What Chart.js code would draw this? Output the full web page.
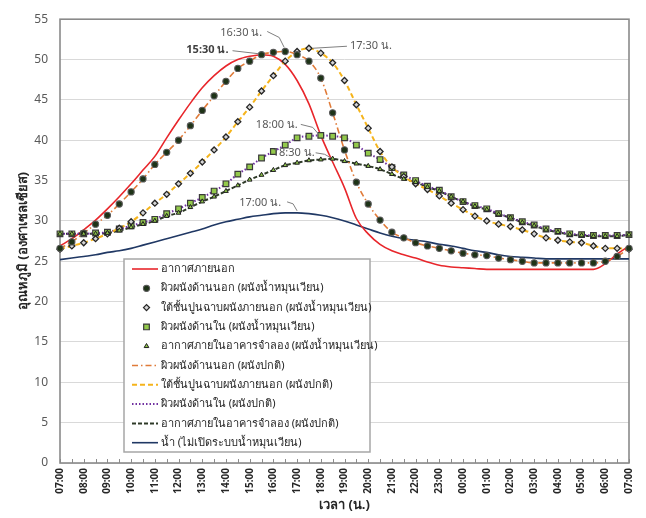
<!DOCTYPE html>
<html>
<head>
<meta charset="utf-8">
<script src="https://cdn.jsdelivr.net/npm/chart.js@4.4.1/dist/chart.umd.min.js"></script>
<style>
  html, body { margin: 0; padding: 0; background: #ffffff; }
  #wrap { width: 646px; height: 518px; position: relative; }
</style>
</head>
<body>
<div id="wrap"><canvas id="chart" width="646" height="518"></canvas></div>
<script>
// Half-hourly readings over one day, 07:00 to 07:00
const timeLabels = [
  '07:00','07:30','08:00','08:30','09:00','09:30','10:00','10:30','11:00','11:30',
  '12:00','12:30','13:00','13:30','14:00','14:30','15:00','15:30','16:00','16:30',
  '17:00','17:30','18:00','18:30','19:00','19:30','20:00','20:30','21:00','21:30',
  '22:00','22:30','23:00','23:30','00:00','00:30','01:00','01:30','02:00','02:30',
  '03:00','03:30','04:00','04:30','05:00','05:30','06:00','06:30','07:00'
];

// Outdoor air (°C)
const outdoorAir = [
  26.9, 27.8, 28.9, 30.1, 31.5, 33.0, 34.6, 36.3, 38.0, 40.3,
  42.5, 44.6, 46.5, 48.0, 49.2, 50.0, 50.4, 50.6, 50.4, 49.4,
  47.4, 44.5, 40.6, 37.3, 34.1, 30.3, 28.4, 27.1, 26.3, 25.8,
  25.4, 24.9, 24.5, 24.3, 24.2, 24.1, 24.0, 24.0, 24.0, 24.0,
  24.0, 24.0, 24.0, 24.0, 24.0, 24.0, 24.7, 25.9, 26.9
];

// Outer wall surface
const outerSurface = [
  26.6, 27.4, 28.5, 29.6, 30.7, 32.1, 33.6, 35.2, 37.0, 38.5,
  40.0, 41.8, 43.7, 45.5, 47.3, 48.9, 49.8, 50.6, 50.9, 51.0,
  50.6, 49.8, 47.7, 43.4, 38.8, 34.8, 32.1, 30.1, 28.6, 27.9,
  27.3, 26.9, 26.6, 26.3, 26.0, 25.8, 25.7, 25.4, 25.2, 25.0,
  24.8, 24.8, 24.8, 24.8, 24.8, 24.8, 25.0, 25.6, 26.6
];

// Under the plaster layer of the outer wall
const underPlaster = [
  26.5, 26.9, 27.3, 27.8, 28.4, 29.1, 29.9, 31.0, 32.2, 33.3,
  34.6, 35.9, 37.3, 38.8, 40.4, 42.3, 44.1, 46.1, 48.0, 49.8,
  51.0, 51.4, 50.8, 49.6, 47.4, 44.4, 41.5, 38.6, 36.7, 35.5,
  34.6, 33.9, 33.1, 32.2, 31.4, 30.6, 30.0, 29.6, 29.3, 28.9,
  28.4, 27.9, 27.6, 27.4, 27.3, 26.9, 26.6, 26.6, 26.5
];

// Inner wall surface
const innerSurface = [
  28.4, 28.4, 28.4, 28.5, 28.6, 29.0, 29.4, 29.8, 30.2, 30.9,
  31.5, 32.2, 32.9, 33.7, 34.6, 35.8, 36.7, 37.8, 38.6, 39.4,
  40.3, 40.5, 40.6, 40.5, 40.3, 39.4, 38.4, 37.6, 36.6, 35.7,
  35.0, 34.3, 33.8, 33.0, 32.4, 31.9, 31.5, 30.9, 30.4, 29.9,
  29.5, 29.0, 28.7, 28.4, 28.3, 28.2, 28.2, 28.2, 28.3
];

// Air inside the test building
const indoorAir = [
  28.4, 28.4, 28.4, 28.4, 28.5, 28.8, 29.2, 29.6, 30.0, 30.6,
  31.0, 31.7, 32.4, 33.0, 33.7, 34.4, 35.1, 35.7, 36.3, 36.9,
  37.2, 37.5, 37.6, 37.7, 37.4, 37.1, 36.8, 36.4, 35.8, 35.2,
  34.8, 34.2, 33.7, 33.0, 32.4, 31.8, 31.4, 30.8, 30.4, 29.8,
  29.4, 28.9, 28.6, 28.3, 28.2, 28.1, 28.1, 28.1, 28.3
];

// Water, circulation switched off
const waterTemp = [
  25.2, 25.4, 25.6, 25.8, 26.1, 26.3, 26.6, 27.0, 27.4, 27.8,
  28.2, 28.6, 29.0, 29.5, 29.9, 30.2, 30.5, 30.7, 30.9, 31.0,
  31.0, 30.9, 30.7, 30.4, 30.0, 29.5, 29.0, 28.5, 28.1, 27.8,
  27.6, 27.4, 27.1, 26.9, 26.6, 26.3, 26.1, 25.8, 25.6, 25.5,
  25.4, 25.3, 25.3, 25.3, 25.3, 25.3, 25.3, 25.3, 25.3
];

const yTicks = [0, 5, 10, 15, 20, 25, 30, 35, 40, 45, 50, 55];

const seriesNames = [
  'อากาศภายนอก',
  'ผิวผนังด้านนอก (ผนังน้ำหมุนเวียน)',
  'ใต้ชั้นปูนฉาบผนังภายนอก (ผนังน้ำหมุนเวียน)',
  'ผิวผนังด้านใน (ผนังน้ำหมุนเวียน)',
  'อากาศภายในอาคารจำลอง (ผนังน้ำหมุนเวียน)',
  'ผิวผนังด้านนอก (ผนังปกติ)',
  'ใต้ชั้นปูนฉาบผนังภายนอก (ผนังปกติ)',
  'ผิวผนังด้านใน (ผนังปกติ)',
  'อากาศภายในอาคารจำลอง (ผนังปกติ)',
  'น้ำ (ไม่เปิดระบบน้ำหมุนเวียน)'
];

const FONT = "Tahoma, 'Noto Sans', 'DejaVu Sans', sans-serif";

function lineSet(label, data, color, width, dash, order) {
  return {
    label, data, borderColor: color, backgroundColor: color, borderWidth: width,
    borderDash: dash, pointRadius: 0, fill: false, order,
    cubicInterpolationMode: 'monotone'
  };
}
function markerSet(label, data, style, radius, fillColor, edgeColor, edgeWidth, order) {
  return {
    label, data, showLine: false, pointStyle: style, pointRadius: radius,
    pointBackgroundColor: fillColor, pointBorderColor: edgeColor, pointBorderWidth: edgeWidth,
    backgroundColor: fillColor, borderColor: edgeColor, order
  };
}

const datasets = [
  lineSet(seriesNames[0], outdoorAir, '#e8262b', 1.6, [], 6),
  markerSet(seriesNames[1], outerSurface, 'circle', 3.1, '#1e3317', '#5a5a5a', 1.1, 1),
  markerSet(seriesNames[2], underPlaster, 'rectRot', 3.0, '#d6d6d6', '#262626', 1.3, 2),
  markerSet(seriesNames[3], innerSurface, 'rect', 4.0, '#93c94b', '#3a3a3a', 1.2, 2),
  markerSet(seriesNames[4], indoorAir, 'triangle', 2.7, '#8fc74a', '#1f1f1f', 1.0, 0),
  lineSet(seriesNames[5], outerSurface, '#e07b39', 1.6, [6, 3, 1.5, 3], 5),
  lineSet(seriesNames[6], underPlaster, '#f5b41c', 2.0, [5, 3], 5),
  lineSet(seriesNames[7], innerSurface, '#7030a0', 2.0, [1.5, 2], 5),
  lineSet(seriesNames[8], indoorAir, '#2e3a28', 2.0, [4, 2], 5),
  lineSet(seriesNames[9], waterTemp, '#203864', 1.6, [], 6)
];

// Peak callouts: series, index, text, text anchor offset, leader path offsets
const callouts = [
  { data: outdoorAir, idx: 17, text: '15:30 น.', bold: true, align: 'right', tx: -33, ty: -5, path: [[-29, -4], [-3, -1]] },
  { data: outerSurface, idx: 19, text: '16:30 น.', align: 'right', tx: -23, ty: -19, path: [[-18, -20], [-6, -14], [-1, -4]] },
  { data: underPlaster, idx: 21, text: '17:30 น.', align: 'left', tx: 41, ty: -2, path: [[38, -2], [4, 0]] },
  { data: innerSurface, idx: 22, text: '18:00 น.', align: 'right', tx: -23, ty: -11, path: [[-20, -11], [-8, -8], [-2, -1]] },
  { data: indoorAir, idx: 23, text: '18:30 น.', align: 'right', tx: -18, ty: -6, path: [[-17, -6], [-8, -4.5], [-2, -1]] },
  { data: waterTemp, idx: 20, text: '17:00 น.', align: 'right', tx: -16, ty: -10, path: [[-10, -11], [-4, -9], [0, -2]] }
];

const framePlugin = {
  id: 'frame',
  beforeDatasetsDraw(chart) {
    const { ctx, chartArea: a, scales } = chart;
    ctx.save();
    // half-hour ticks pointing into the plot
    ctx.strokeStyle = '#8c8c8c';
    ctx.lineWidth = 1;
    for (let i = 0; i < timeLabels.length; i++) {
      const x = Math.round(scales.x.getPixelForValue(i)) + 0.5;
      ctx.beginPath();
      ctx.moveTo(x, a.bottom);
      ctx.lineTo(x, a.bottom - 4);
      ctx.stroke();
    }
    ctx.strokeStyle = '#8a8a8a';
    ctx.lineWidth = 1.6;
    ctx.strokeRect(a.left, a.top, a.right - a.left, a.bottom - a.top);
    ctx.restore();
  }
};

const calloutPlugin = {
  id: 'callouts',
  afterDatasetsDraw(chart) {
    const { ctx, scales } = chart;
    ctx.save();
    for (const c of callouts) {
      const px = scales.x.getPixelForValue(c.idx);
      const py = scales.y.getPixelForValue(c.data[c.idx]);
      ctx.strokeStyle = '#7f7f7f';
      ctx.lineWidth = 1;
      ctx.beginPath();
      c.path.forEach((p, k) => {
        if (k === 0) ctx.moveTo(px + p[0], py + p[1]);
        else ctx.lineTo(px + p[0], py + p[1]);
      });
      ctx.stroke();
      ctx.font = (c.bold ? 'bold ' : '') + '11px ' + FONT;
      ctx.fillStyle = c.bold ? '#404040' : '#595959';
      ctx.textAlign = c.align;
      ctx.textBaseline = 'middle';
      ctx.fillText(c.text, px + c.tx, py + c.ty);
    }
    ctx.restore();
  }
};

const legendPlugin = {
  id: 'boxLegend',
  afterDatasetsDraw(chart) {
    const { ctx, chartArea: a } = chart;
    const left = a.left + 64, top = a.bottom - 204, w = 246, h = 193, step = 19.3;
    ctx.save();
    ctx.fillStyle = '#ffffff';
    ctx.fillRect(left, top, w, h);
    ctx.strokeStyle = '#a6a6a6';
    ctx.lineWidth = 1.5;
    ctx.strokeRect(left, top, w, h);
    datasets.forEach((ds, i) => {
      const y = top + 10 + i * step;
      if (ds.showLine === false) {
        ctx.fillStyle = ds.pointBackgroundColor;
        ctx.strokeStyle = ds.pointBorderColor;
        ctx.lineWidth = ds.pointBorderWidth;
        Chart.helpers.drawPoint(ctx, {
          pointStyle: ds.pointStyle, radius: ds.pointRadius, rotation: 0,
          borderWidth: ds.pointBorderWidth
        }, left + 22.5, y);
      } else {
        ctx.strokeStyle = ds.borderColor;
        ctx.lineWidth = ds.borderWidth;
        ctx.setLineDash(ds.borderDash);
        ctx.beginPath();
        ctx.moveTo(left + 8, y);
        ctx.lineTo(left + 34, y);
        ctx.stroke();
        ctx.setLineDash([]);
      }
      ctx.font = '11px ' + FONT;
      ctx.fillStyle = '#262626';
      ctx.textAlign = 'left';
      ctx.textBaseline = 'middle';
      ctx.fillText(ds.label, left + 37, y);
    });
    ctx.restore();
  }
};

new Chart(document.getElementById('chart'), {
  type: 'line',
  data: { labels: timeLabels, datasets },
  options: {
    responsive: false,
    animation: false,
    devicePixelRatio: 1,
    layout: { autoPadding: false, padding: { top: 14, right: 6, left: 0, bottom: 0 } },
    plugins: { legend: { display: false }, tooltip: { enabled: false } },
    elements: { line: { tension: 0.4 } },
    scales: {
      x: {
        type: 'category',
        offset: false,
        grid: { display: false, drawTicks: false },
        border: { display: false },
        afterFit(scale) { scale.height = 55; },
        ticks: {
          autoSkip: false, maxRotation: 90, minRotation: 90, padding: 5,
          color: '#262626',
          font: { family: FONT, size: 10, weight: 'bold' },
          callback: (v, i) => (i % 2 === 0 ? timeLabels[i] : '')
        },
        title: {
          display: true, text: 'เวลา (น.)', color: '#262626',
          font: { family: FONT, size: 13, weight: 'bold' },
          padding: { top: 0, bottom: 5 }
        }
      },
      y: {
        min: 0, max: 55,
        afterFit(scale) { scale.width = 60; },
        afterBuildTicks(scale) { scale.ticks = yTicks.map(v => ({ value: v })); },
        grid: { color: '#d9d9d9', lineWidth: 1, drawTicks: false },
        border: { display: false },
        ticks: {
          padding: 12, color: '#595959',
          font: { family: FONT, size: 12 }
        },
        title: {
          display: true, text: 'อุณหภูมิ (องศาเซลเซียส)', color: '#262626',
          font: { family: FONT, size: 13, weight: 'bold' },
          padding: { top: 15, bottom: 0 }
        }
      }
    }
  },
  plugins: [framePlugin, calloutPlugin, legendPlugin]
});
</script>
</body>
</html>
